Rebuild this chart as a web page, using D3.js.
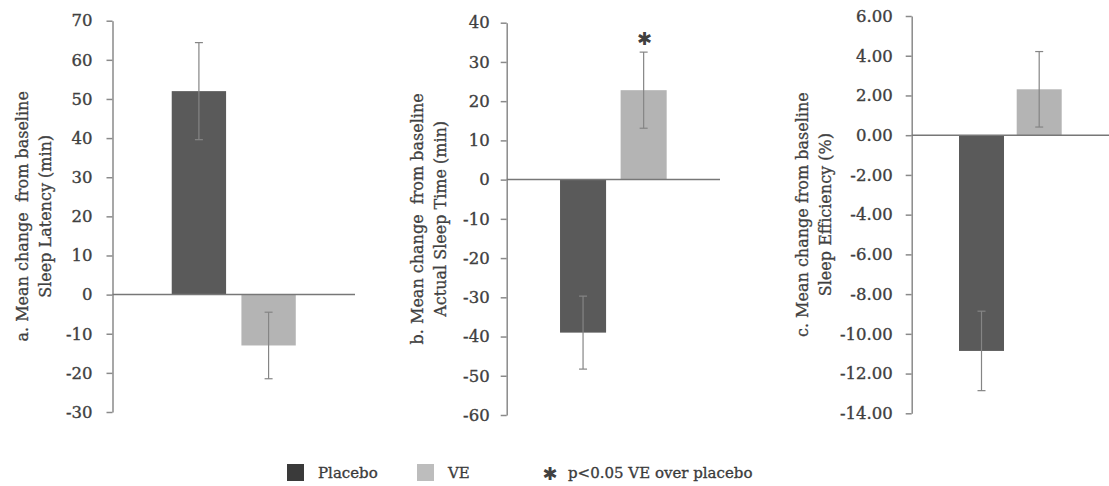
<!DOCTYPE html>
<html>
<head>
<meta charset="utf-8">
<script src="https://cdn.jsdelivr.net/npm/d3@7"></script>
<style>
  html, body { margin: 0; padding: 0; background: #fff; }
  svg { display: block; }
  text { font-family: "DejaVu Serif", serif; fill: #404040; white-space: pre; }
</style>
</head>
<body>
<svg id="chart" width="1109" height="486"></svg>
<script>
// ---- data ----
const groups = ["Placebo", "VE"];
const latencyMeans = [52, -13];
const latencyErrors = [12.4, 8.5];
const sleepTimeMeans = [-39, 22.8];
const sleepTimeErrors = [9.3, 9.7];
const efficiencyMeans = [-10.86, 2.31];
const efficiencyErrors = [2.0, 1.9];
const latencyTicks = [70, 60, 50, 40, 30, 20, 10, 0, -10, -20, -30];
const sleepTimeTicks = [40, 30, 20, 10, 0, -10, -20, -30, -40, -50, -60];
const efficiencyTicks = [6, 4, 2, 0, -2, -4, -6, -8, -10, -12, -14];
const labelsA = ["a. Mean change  from baseline", "Sleep Latency (min)"];
const labelsB = ["b. Mean change  from baseline", "Actual Sleep Time (min)"];
const labelsC = ["c. Mean change from baseline", "Sleep Efficiency (%)"];
const significant = [false, true]; // panel b VE significant
const legendNote = "p<0.05 VE over placebo";

// ---- layout ----
const svg = d3.select("#chart");
const colors = { Placebo: "#5a5a5a", VE: "#b4b4b4" };
const legendColors = { Placebo: "#3a3a3a", VE: "#bdbdbd" };

const panels = [
  { means: latencyMeans, errs: latencyErrors, ticks: latencyTicks, fmt: d3.format("d"), pad: 14,
    x0: 112.5, x1: 355, yTop: 20.7, yBot: 412, inner: 0.22, outer: 0.85, labels: labelsA, sig: [false, false], labelX: 22 },
  { means: sleepTimeMeans, errs: sleepTimeErrors, ticks: sleepTimeTicks, fmt: d3.format("d"), pad: 11,
    x0: 506.7, x1: 720, yTop: 22.7, yBot: 415, inner: 0.24, outer: 0.88, labels: labelsB, sig: significant, labelX: 417 },
  { means: efficiencyMeans, errs: efficiencyErrors, ticks: efficiencyTicks, fmt: d3.format(".2f"), pad: 13,
    x0: 911.7, x1: 1109, yTop: 16, yBot: 413.3, inner: 0.22, outer: 0.82, labels: labelsC, sig: [false, false], labelX: 802 }
];

panels.forEach(p => {
  const y = d3.scaleLinear().domain([d3.min(p.ticks), d3.max(p.ticks)]).range([p.yBot, p.yTop]);
  const x = d3.scaleBand().domain(groups).range([p.x0, p.x1]).paddingInner(p.inner).paddingOuter(p.outer);
  const g = svg.append("g");

  // y axis
  const ax = g.append("g").attr("transform", `translate(${p.x0},0)`)
    .call(d3.axisLeft(y).tickValues(p.ticks).tickFormat(d => p.fmt(d).replace("\u2212", "-"))
      .tickSize(6).tickSizeOuter(0).tickPadding(p.pad));
  ax.select(".domain").attr("stroke", "#8a8a8a").attr("stroke-width", 1.5);
  ax.selectAll(".tick line").attr("stroke", "#8a8a8a").attr("stroke-width", 1.5);
  ax.selectAll(".tick text").style("font-family", "DejaVu Serif, serif").style("font-size", "16.5px")
    .attr("fill", "#404040").attr("stroke", "#404040").attr("stroke-width", 0.35);

  // bars
  g.selectAll("rect.bar").data(groups).join("rect")
    .attr("x", d => x(d))
    .attr("width", x.bandwidth())
    .attr("y", (d, i) => Math.min(y(p.means[i]), y(0)))
    .attr("height", (d, i) => Math.abs(y(p.means[i]) - y(0)))
    .attr("fill", d => colors[d]);

  // zero line
  g.append("line").attr("x1", p.x0).attr("x2", p.x1).attr("y1", y(0)).attr("y2", y(0))
    .attr("stroke", "#777").attr("stroke-width", 1.5);

  // error bars
  groups.forEach((d, i) => {
    const cx = x(d) + x.bandwidth() / 2;
    const hi = y(p.means[i] + p.errs[i]), lo = y(p.means[i] - p.errs[i]);
    g.append("line").attr("x1", cx).attr("x2", cx).attr("y1", hi).attr("y2", lo)
      .attr("stroke", "#858585").attr("stroke-width", 1.2);
    [hi, lo].forEach(yy => g.append("line").attr("x1", cx - 4).attr("x2", cx + 4).attr("y1", yy).attr("y2", yy)
      .attr("stroke", "#858585").attr("stroke-width", 1.2));
    if (p.sig[i]) {
      g.append("text").attr("x", cx + 1).attr("y", hi - 7).attr("text-anchor", "middle")
        .style("font-family", "DejaVu Sans, sans-serif").style("font-size", "18px").attr("fill", "#222")
        .text("\u2731");
    }
  });

  // y label
  const cy = (p.yTop + p.yBot) / 2;
  const lab = g.append("text").attr("transform", `translate(${p.labelX},${cy}) rotate(-90)`)
    .attr("text-anchor", "middle").style("font-size", "16px")
    .attr("fill", "#404040").attr("stroke", "#404040").attr("stroke-width", 0.3);
  p.labels.forEach((t, k) => lab.append("tspan").attr("x", 0).attr("dy", k === 0 ? "0.35em" : "1.45em").text(t));
});

// legend
const legendX = [287, 417];
groups.forEach((d, i) => {
  svg.append("rect").attr("x", legendX[i]).attr("y", 464).attr("width", 17).attr("height", 17).attr("fill", legendColors[d]);
  svg.append("text").attr("x", legendX[i] + 31).attr("y", 478).style("font-size", "15px")
    .attr("fill", "#333").attr("stroke", "#333").attr("stroke-width", 0.3).text(d);
});
svg.append("text").attr("x", 550).attr("y", 480).attr("text-anchor", "middle")
  .style("font-family", "DejaVu Sans, sans-serif").style("font-size", "18px").attr("fill", "#222").text("\u2731");
svg.append("text").attr("x", 568).attr("y", 478).style("font-size", "15px")
  .attr("fill", "#333").attr("stroke", "#333").attr("stroke-width", 0.3).text(legendNote);
</script>
</body>
</html>
